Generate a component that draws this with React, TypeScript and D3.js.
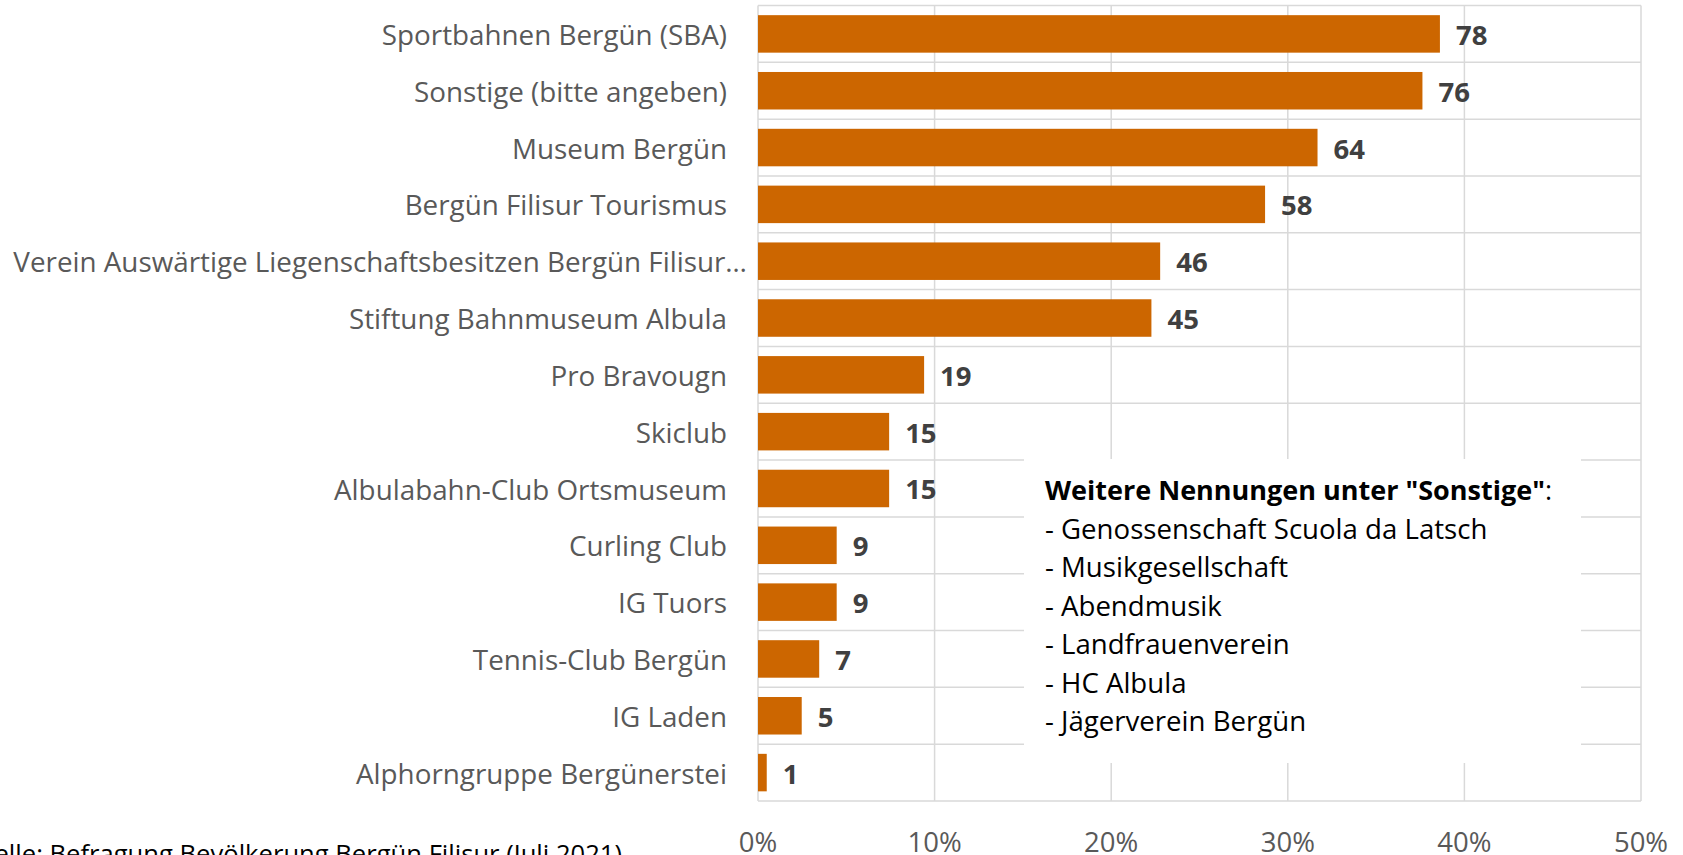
import React, { useEffect, useRef } from "react";
import * as d3 from "d3";

const categories = [
    "Sportbahnen Bergün (SBA)",
    "Sonstige (bitte angeben)",
    "Museum Bergün",
    "Bergün Filisur Tourismus",
    "Verein Auswärtige Liegenschaftsbesitzen Bergün Filisur…",
    "Stiftung Bahnmuseum Albula",
    "Pro Bravougn",
    "Skiclub",
    "Albulabahn-Club Ortsmuseum",
    "Curling Club",
    "IG Tuors",
    "Tennis-Club Bergün",
    "IG Laden",
    "Alphorngruppe Bergünerstei",
];
const counts = [78, 76, 64, 58, 46, 45, 19, 15, 15, 9, 9, 7, 5, 1];
const respondents = 202;
const xTicks = [0, 0.1, 0.2, 0.3, 0.4, 0.5];
const noteTitle = 'Weitere Nennungen unter "Sonstige"';
const noteItems = [
    "Genossenschaft Scuola da Latsch",
    "Musikgesellschaft",
    "Abendmusik",
    "Landfrauenverein",
    "HC Albula",
    "Jägerverein Bergün",
];
const sourceText = "Quelle: Befragung Bevölkerung Bergün Filisur (Juli 2021)";

const W = 1683;
const H = 855;
const FONT = "'Open Sans', sans-serif";
const GRID = "#d9d9d9";

const App = () => {
    const ref = useRef<SVGSVGElement>(null);

    useEffect(() => {
        if (!ref.current) return;
        const svg = d3.select(ref.current);
        svg.selectAll("*").remove();

        const left = 758;
        const right = 1641;
        const top = 5.5;
        const bottom = 801;

        const x = d3.scaleLinear().domain([0, 0.5]).range([left, right]);
        const y = d3
            .scaleBand()
            .domain(categories)
            .range([top, bottom])
            .paddingInner(0.34)
            .paddingOuter(0.17);
        const step = y.step();

        // horizontal gridlines at category boundaries
        const hLines = d3.range(categories.length + 1).map((i) => top + i * step);
        svg.append("g")
            .selectAll("line")
            .data(hLines)
            .enter()
            .append("line")
            .attr("x1", left)
            .attr("x2", right)
            .attr("y1", (d) => d)
            .attr("y2", (d) => d)
            .attr("stroke", GRID)
            .attr("stroke-width", 1.5);

        // vertical gridlines
        svg.append("g")
            .selectAll("line")
            .data(xTicks)
            .enter()
            .append("line")
            .attr("x1", (d) => x(d))
            .attr("x2", (d) => x(d))
            .attr("y1", top)
            .attr("y2", bottom)
            .attr("stroke", GRID)
            .attr("stroke-width", 1.5);

        // bars
        svg.append("g")
            .selectAll("rect")
            .data(counts)
            .enter()
            .append("rect")
            .attr("x", x(0))
            .attr("y", (_, i) => y(categories[i])!)
            .attr("width", (d) => x(d / respondents) - x(0))
            .attr("height", y.bandwidth())
            .attr("fill", "#cc6600");

        // value labels
        svg.append("g")
            .selectAll("text")
            .data(counts)
            .enter()
            .append("text")
            .attr("x", (d) => x(d / respondents) + 16)
            .attr("y", (_, i) => y(categories[i])! + y.bandwidth() / 2)
            .attr("dy", "0.4em")
            .attr("font-family", FONT)
            .attr("font-size", 27.5)
            .attr("font-weight", "bold")
            .attr("fill", "#404040")
            .text((d) => d);

        // category labels
        svg.append("g")
            .selectAll("text")
            .data(categories)
            .enter()
            .append("text")
            .attr("x", (d) => (d.endsWith("…") ? 747 : 727))
            .attr("y", (d) => y(d)! + y.bandwidth() / 2)
            .attr("dy", "0.4em")
            .attr("text-anchor", "end")
            .attr("font-family", FONT)
            .attr("font-size", 27.8)
            .attr("fill", "#595959")
            .text((d) => d);

        // x tick labels
        svg.append("g")
            .selectAll("text")
            .data(xTicks)
            .enter()
            .append("text")
            .attr("x", (d) => x(d))
            .attr("y", 852)
            .attr("text-anchor", "middle")
            .attr("font-family", FONT)
            .attr("font-size", 27.5)
            .attr("fill", "#595959")
            .text((d) => d3.format(".0%")(d));

        // note box
        const note = svg.append("g");
        note.append("rect")
            .attr("x", 1024)
            .attr("y", 459)
            .attr("width", 557)
            .attr("height", 304)
            .attr("fill", "#fff");
        const title = note
            .append("text")
            .attr("x", 1045)
            .attr("y", 490)
            .attr("dy", "0.36em")
            .attr("font-family", FONT)
            .attr("font-size", 27)
            .attr("fill", "#000");
        title.append("tspan").attr("font-weight", "bold").text(noteTitle);
        title.append("tspan").text(":");
        note.selectAll("text.item")
            .data(noteItems)
            .enter()
            .append("text")
            .attr("class", "item")
            .attr("x", 1045)
            .attr("y", (_, i) => 529 + i * 38.5)
            .attr("dy", "0.36em")
            .attr("font-family", FONT)
            .attr("font-size", 27.6)
            .attr("fill", "#000")
            .text((d) => `- ${d}`);

        // source (partly cut off at the left and bottom, as in the original)
        svg.append("text")
            .attr("x", 622)
            .attr("y", 863)
            .attr("text-anchor", "end")
            .attr("font-family", FONT)
            .attr("font-size", 25.6)
            .attr("fill", "#000")
            .text(sourceText);
    }, []);

    return (
        <svg
            ref={ref}
            width={W}
            height={H}
            style={{ position: "fixed", left: 0, top: 0, background: "#fff" }}
        />
    );
};

export default App;
